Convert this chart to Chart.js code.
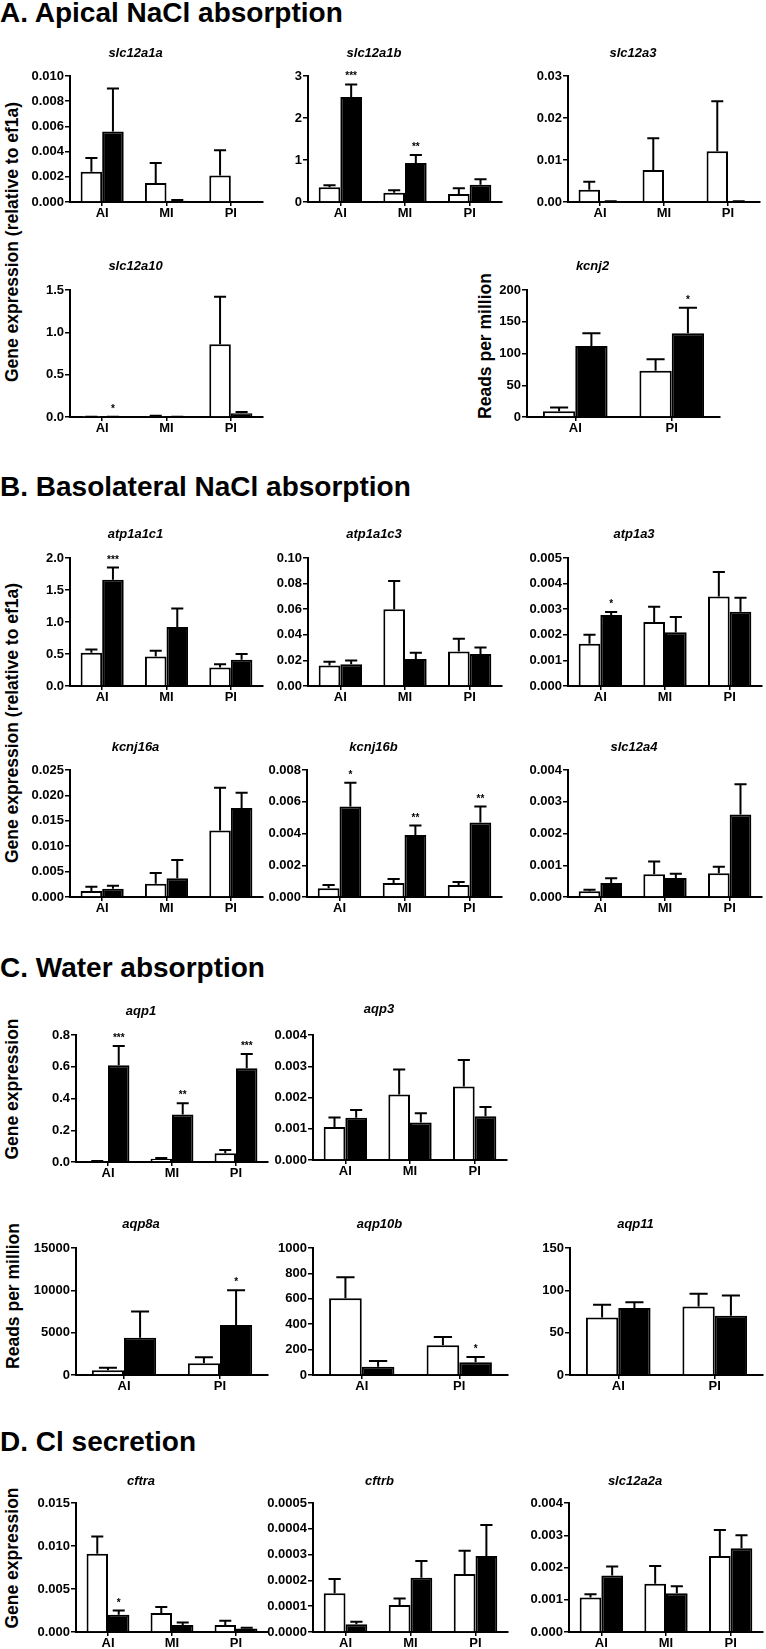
<!DOCTYPE html>
<html>
<head>
<meta charset="utf-8">
<title>Intestinal ion and water transporter expression</title>
<script src="https://cdn.jsdelivr.net/npm/chart.js@4.4.1/dist/chart.umd.min.js"></script>
<style>
  html, body { margin: 0; padding: 0; background: #fff; overflow: hidden; }
  #page { position: relative; width: 766px; height: 1649px; overflow: hidden;
          font-family: "Liberation Sans", Arial, Helvetica, sans-serif; color: #000; }
  .section { position: absolute; left: 0; font-size: 28px; font-weight: bold; line-height: 28px; white-space: nowrap; }
  .ylab { position: absolute; font-size: 17.5px; font-weight: bold; white-space: nowrap;
          transform: translate(-50%, -50%) rotate(-90deg); }
  canvas { position: absolute; }
</style>
</head>
<body>
<div id="page">
  <div class="section" style="top:-1px">A. Apical NaCl absorption</div>
  <div class="section" style="top:473px">B. Basolateral NaCl absorption</div>
  <div class="section" style="top:954px">C. Water absorption</div>
  <div class="section" style="top:1428px">D. Cl secretion</div>

  <div class="ylab" style="left:12px; top:242px">Gene expression (relative to ef1a)</div>
  <div class="ylab" style="left:485px; top:346px">Reads per million</div>
  <div class="ylab" style="left:12px; top:723px">Gene expression (relative to ef1a)</div>
  <div class="ylab" style="left:12px; top:1089px">Gene expression</div>
  <div class="ylab" style="left:13px; top:1296px">Reads per million</div>
  <div class="ylab" style="left:12px; top:1558px">Gene expression</div>
</div>
<script>
// categories
const threeRegions = ["AI", "MI", "PI"];
const twoRegions = ["AI", "PI"];

// --- A. Apical NaCl absorption ---
const slc12a1aOpen = [0.0024, 0.0015, 0.0021];
const slc12a1aOpenErr = [0.0011, 0.0016, 0.0020];
const slc12a1aFilled = [0.0056, 0.0001, 0.0];
const slc12a1aFilledErr = [0.0034, 0.00005, 0];
const slc12a1aStars = ["", "", ""];
const slc12a1aTicks = ["0.000", "0.002", "0.004", "0.006", "0.008", "0.010"];

const slc12a1bOpen = [0.35, 0.22, 0.19];
const slc12a1bOpenErr = [0.05, 0.06, 0.14];
const slc12a1bFilled = [2.5, 0.93, 0.41];
const slc12a1bFilledErr = [0.3, 0.19, 0.13];
const slc12a1bStars = ["***", "**", ""];
const slc12a1bTicks = ["0", "1", "2", "3"];

const slc12a3Open = [0.0029, 0.0076, 0.0121];
const slc12a3OpenErr = [0.0019, 0.0076, 0.0119];
const slc12a3Filled = [0.0001, 0.00005, 0.0001];
const slc12a3FilledErr = [0.00005, 0, 0.00005];
const slc12a3Stars = ["", "", ""];
const slc12a3Ticks = ["0.00", "0.01", "0.02", "0.03"];

const slc12a10Open = [0.002, 0.012, 0.86];
const slc12a10OpenErr = [0.001, 0.004, 0.56];
const slc12a10Filled = [0.001, 0.002, 0.045];
const slc12a10FilledErr = [0.001, 0.001, 0.015];
const slc12a10Stars = ["*", "", ""];
const slc12a10Ticks = ["0.0", "0.5", "1.0", "1.5"];

const kcnj2Open = [9, 73];
const kcnj2OpenErr = [6, 18];
const kcnj2Filled = [112, 132];
const kcnj2FilledErr = [20, 40];
const kcnj2Stars = ["", "*"];
const kcnj2Ticks = ["0", "50", "100", "150", "200"];

// --- B. Basolateral NaCl absorption ---
const atp1a1c1Open = [0.52, 0.46, 0.29];
const atp1a1c1OpenErr = [0.05, 0.09, 0.05];
const atp1a1c1Filled = [1.66, 0.92, 0.41];
const atp1a1c1FilledErr = [0.19, 0.29, 0.09];
const atp1a1c1Stars = ["***", "", ""];
const atp1a1c1Ticks = ["0.0", "0.5", "1.0", "1.5", "2.0"];

const atp1a1c3Open = [0.016, 0.060, 0.027];
const atp1a1c3OpenErr = [0.003, 0.022, 0.010];
const atp1a1c3Filled = [0.017, 0.021, 0.025];
const atp1a1c3FilledErr = [0.003, 0.005, 0.005];
const atp1a1c3Stars = ["", "", ""];
const atp1a1c3Ticks = ["0.00", "0.02", "0.04", "0.06", "0.08", "0.10"];

const atp1a3Open = [0.00165, 0.0025, 0.0035];
const atp1a3OpenErr = [0.00035, 0.0006, 0.00095];
const atp1a3Filled = [0.00277, 0.0021, 0.0029];
const atp1a3FilledErr = [0.00012, 0.0006, 0.00055];
const atp1a3Stars = ["*", "", ""];
const atp1a3Ticks = ["0.000", "0.001", "0.002", "0.003", "0.004", "0.005"];

const kcnj16aOpen = [0.0012, 0.0026, 0.0131];
const kcnj16aOpenErr = [0.0008, 0.0021, 0.0084];
const kcnj16aFilled = [0.0016, 0.0037, 0.0175];
const kcnj16aFilledErr = [0.0006, 0.0036, 0.003];
const kcnj16aStars = ["", "", ""];
const kcnj16aTicks = ["0.000", "0.005", "0.010", "0.015", "0.020", "0.025"];

const kcnj16bOpen = [0.00055, 0.00088, 0.00075];
const kcnj16bOpenErr = [0.0002, 0.00025, 0.0002];
const kcnj16bFilled = [0.0057, 0.0039, 0.0047];
const kcnj16bFilledErr = [0.0015, 0.0006, 0.001];
const kcnj16bStars = ["*", "**", "**"];
const kcnj16bTicks = ["0.000", "0.002", "0.004", "0.006", "0.008"];

const slc12a4Open = [0.00018, 0.00072, 0.00075];
const slc12a4OpenErr = [0.00005, 0.0004, 0.0002];
const slc12a4Filled = [0.00044, 0.0006, 0.0026];
const slc12a4FilledErr = [0.00015, 0.00013, 0.00095];
const slc12a4Stars = ["", "", ""];
const slc12a4Ticks = ["0.000", "0.001", "0.002", "0.003", "0.004"];

// --- C. Water absorption ---
const aqp1Open = [0.005, 0.02, 0.055];
const aqp1OpenErr = [0.002, 0.005, 0.02];
const aqp1Filled = [0.61, 0.30, 0.59];
const aqp1FilledErr = [0.12, 0.07, 0.09];
const aqp1Stars = ["***", "**", "***"];
const aqp1Ticks = ["0.0", "0.2", "0.4", "0.6", "0.8"];

const aqp3Open = [0.00106, 0.0021, 0.00235];
const aqp3OpenErr = [0.0003, 0.0008, 0.00085];
const aqp3Filled = [0.00135, 0.0012, 0.0014];
const aqp3FilledErr = [0.00025, 0.0003, 0.0003];
const aqp3Stars = ["", "", ""];
const aqp3Ticks = ["0.000", "0.001", "0.002", "0.003", "0.004"];

const aqp8aOpen = [550, 1400];
const aqp8aOpenErr = [300, 700];
const aqp8aFilled = [4400, 5900];
const aqp8aFilledErr = [3100, 4100];
const aqp8aStars = ["", "*"];
const aqp8aTicks = ["0", "5000", "10000", "15000"];

const aqp10bOpen = [605, 235];
const aqp10bOpenErr = [165, 65];
const aqp10bFilled = [65, 100];
const aqp10bFilledErr = [45, 42];
const aqp10bStars = ["", "*"];
const aqp10bTicks = ["0", "200", "400", "600", "800", "1000"];

const aqp11Open = [68, 81];
const aqp11OpenErr = [15, 15];
const aqp11Filled = [79, 70];
const aqp11FilledErr = [7, 24];
const aqp11Stars = ["", ""];
const aqp11Ticks = ["0", "50", "100", "150"];

// --- D. Cl secretion ---
const cftraOpen = [0.0091, 0.0022, 0.0008];
const cftraOpenErr = [0.002, 0.0007, 0.0005];
const cftraFilled = [0.002, 0.0008, 0.0004];
const cftraFilledErr = [0.0005, 0.0003, 0.0001];
const cftraStars = ["*", "", ""];
const cftraTicks = ["0.000", "0.005", "0.010", "0.015"];

const cftrbOpen = [0.00015, 0.000105, 0.000225];
const cftrbOpenErr = [0.000055, 0.000025, 0.00009];
const cftrbFilled = [0.00003, 0.00021, 0.000295];
const cftrbFilledErr = [0.00001, 0.000065, 0.00012];
const cftrbStars = ["", "", ""];
const cftrbTicks = ["0.0000", "0.0001", "0.0002", "0.0003", "0.0004", "0.0005"];

const slc12a2aOpen = [0.00107, 0.0015, 0.00236];
const slc12a2aOpenErr = [0.0001, 0.00055, 0.0008];
const slc12a2aFilled = [0.00175, 0.0012, 0.0026];
const slc12a2aFilledErr = [0.00028, 0.00022, 0.0004];
const slc12a2aStars = ["", "", ""];
const slc12a2aTicks = ["0.000", "0.001", "0.002", "0.003", "0.004"];

// where each panel sits on the page (y-axis x, plot right, plot top, plot bottom, title centre)
const layout = {
  slc12a1a: { x: 70, right: 263, top: 76, bottom: 202, titleY: 54 },
  slc12a1b: { x: 308, right: 502, top: 76, bottom: 202, titleY: 54 },
  slc12a3: { x: 568, right: 760, top: 76, bottom: 202, titleY: 54 },
  slc12a10: { x: 70, right: 263, top: 290, bottom: 417, titleY: 267 },
  kcnj2: { x: 527, right: 720, top: 290, bottom: 417, titleY: 267 },
  atp1a1c1: { x: 70, right: 263, top: 558, bottom: 686, titleY: 535 },
  atp1a1c3: { x: 308, right: 502, top: 558, bottom: 686, titleY: 535 },
  atp1a3: { x: 568, right: 762, top: 558, bottom: 686, titleY: 535 },
  kcnj16a: { x: 70, right: 263, top: 770, bottom: 897, titleY: 748 },
  kcnj16b: { x: 307, right: 502, top: 770, bottom: 897, titleY: 748 },
  slc12a4: { x: 568, right: 762, top: 770, bottom: 897, titleY: 748 },
  aqp1: { x: 76, right: 268, top: 1035, bottom: 1162, titleY: 1012 },
  aqp3: { x: 313, right: 507, top: 1035, bottom: 1160, titleY: 1010 },
  aqp8a: { x: 76, right: 268, top: 1248, bottom: 1375, titleY: 1225 },
  aqp10b: { x: 313, right: 508, top: 1248, bottom: 1375, titleY: 1225 },
  aqp11: { x: 570, right: 763, top: 1248, bottom: 1375, titleY: 1225 },
  cftra: { x: 76, right: 268, top: 1503, bottom: 1632, titleY: 1482 },
  cftrb: { x: 313, right: 508, top: 1503, bottom: 1632, titleY: 1482 },
  slc12a2a: { x: 569, right: 763, top: 1503, bottom: 1632, titleY: 1482 }
};

const FONT = '"Liberation Sans", Arial, Helvetica, sans-serif';
const AXIS_W = 62;   // width reserved for y tick labels
const XAXIS_H = 26;  // height reserved for category labels

// error bars (upward only) and significance stars above the filled bars
const errorBarPlugin = {
  id: "errorBars",
  afterDatasetsDraw(chart) {
    const ctx = chart.ctx;
    const yScale = chart.scales.y;
    ctx.save();
    ctx.strokeStyle = "#000";
    ctx.fillStyle = "#000";
    ctx.lineWidth = 2;
    chart.data.datasets.forEach((ds, i) => {
      const meta = chart.getDatasetMeta(i);
      meta.data.forEach((bar, j) => {
        const err = ds.errors[j];
        const topPx = yScale.getPixelForValue(ds.data[j] + err);
        const basePx = yScale.getPixelForValue(ds.data[j]);
        if (err > 0) {
          const half = bar.width * 0.28;
          ctx.beginPath();
          ctx.moveTo(bar.x, basePx);
          ctx.lineTo(bar.x, topPx);
          ctx.moveTo(bar.x - half, topPx);
          ctx.lineTo(bar.x + half, topPx);
          ctx.stroke();
        }
        const star = ds.stars ? ds.stars[j] : "";
        if (star) {
          ctx.font = "bold 10px " + FONT;
          ctx.textAlign = "center";
          ctx.textBaseline = "alphabetic";
          ctx.fillText(star, bar.x, topPx - 5);
        }
      });
    });
    ctx.restore();
  }
};

function makePanel(id, title, categories, open, openErr, filled, filledErr, stars, tickLabels) {
  const g = layout[id];
  const canvasLeft = g.x - AXIS_W;
  const canvasTop = g.titleY - 8;
  const width = AXIS_W + (g.right - g.x) + AXIS_W;
  const height = (g.bottom - canvasTop) + XAXIS_H;

  const canvas = document.createElement("canvas");
  canvas.width = width;
  canvas.height = height;
  canvas.style.left = canvasLeft + "px";
  canvas.style.top = canvasTop + "px";
  canvas.style.width = width + "px";
  canvas.style.height = height + "px";
  document.getElementById("page").appendChild(canvas);

  const tickValues = tickLabels.map(parseFloat);

  return new Chart(canvas, {
    type: "bar",
    data: {
      labels: categories,
      datasets: [
        {
          label: "open",
          data: open,
          errors: openErr,
          stars: [],
          backgroundColor: "#fff",
          borderColor: "#000",
          borderWidth: 2,
          borderSkipped: "bottom"
        },
        {
          label: "filled",
          data: filled,
          errors: filledErr,
          stars: stars,
          backgroundColor: "#000",
          borderColor: "#000",
          borderWidth: 2,
          borderSkipped: "bottom"
        }
      ]
    },
    options: {
      responsive: false,
      animation: false,
      devicePixelRatio: 1,
      events: [],
      categoryPercentage: 0.67,
      barPercentage: 1.0,
      layout: { padding: { left: 0, right: AXIS_W, top: 0, bottom: 0 } },
      plugins: {
        legend: { display: false },
        tooltip: { enabled: false },
        title: {
          display: true,
          text: title,
          color: "#000",
          font: { family: FONT, size: 13, weight: "bold", style: "italic", lineHeight: 1.2 },
          padding: { top: 0, bottom: g.top - g.titleY - 7.6 }
        }
      },
      scales: {
        x: {
          offset: true,
          grid: { display: true, drawOnChartArea: false, drawTicks: true, tickLength: 4,
                  offset: false, color: "#000", lineWidth: 1.5 },
          border: { display: true, color: "#000", width: 2 },
          ticks: { color: "#000", font: { family: FONT, size: 13, weight: "bold" },
                   padding: 0, maxRotation: 0, autoSkip: false },
          afterFit: (s) => { s.height = XAXIS_H; }
        },
        y: {
          min: tickValues[0],
          max: tickValues[tickValues.length - 1],
          afterBuildTicks: (s) => { s.ticks = tickValues.map((v) => ({ value: v })); },
          grid: { display: true, drawOnChartArea: false, drawTicks: true, tickLength: 5,
                  color: "#000", lineWidth: 1.5 },
          border: { display: true, color: "#000", width: 2 },
          ticks: { color: "#000", font: { family: FONT, size: 13, weight: "bold" }, padding: 1,
                   callback: (v, i) => tickLabels[i] },
          afterFit: (s) => { s.width = AXIS_W; }
        }
      }
    },
    plugins: [errorBarPlugin]
  });
}

makePanel("slc12a1a", "slc12a1a", threeRegions, slc12a1aOpen, slc12a1aOpenErr, slc12a1aFilled, slc12a1aFilledErr, slc12a1aStars, slc12a1aTicks);
makePanel("slc12a1b", "slc12a1b", threeRegions, slc12a1bOpen, slc12a1bOpenErr, slc12a1bFilled, slc12a1bFilledErr, slc12a1bStars, slc12a1bTicks);
makePanel("slc12a3", "slc12a3", threeRegions, slc12a3Open, slc12a3OpenErr, slc12a3Filled, slc12a3FilledErr, slc12a3Stars, slc12a3Ticks);
makePanel("slc12a10", "slc12a10", threeRegions, slc12a10Open, slc12a10OpenErr, slc12a10Filled, slc12a10FilledErr, slc12a10Stars, slc12a10Ticks);
makePanel("kcnj2", "kcnj2", twoRegions, kcnj2Open, kcnj2OpenErr, kcnj2Filled, kcnj2FilledErr, kcnj2Stars, kcnj2Ticks);

makePanel("atp1a1c1", "atp1a1c1", threeRegions, atp1a1c1Open, atp1a1c1OpenErr, atp1a1c1Filled, atp1a1c1FilledErr, atp1a1c1Stars, atp1a1c1Ticks);
makePanel("atp1a1c3", "atp1a1c3", threeRegions, atp1a1c3Open, atp1a1c3OpenErr, atp1a1c3Filled, atp1a1c3FilledErr, atp1a1c3Stars, atp1a1c3Ticks);
makePanel("atp1a3", "atp1a3", threeRegions, atp1a3Open, atp1a3OpenErr, atp1a3Filled, atp1a3FilledErr, atp1a3Stars, atp1a3Ticks);
makePanel("kcnj16a", "kcnj16a", threeRegions, kcnj16aOpen, kcnj16aOpenErr, kcnj16aFilled, kcnj16aFilledErr, kcnj16aStars, kcnj16aTicks);
makePanel("kcnj16b", "kcnj16b", threeRegions, kcnj16bOpen, kcnj16bOpenErr, kcnj16bFilled, kcnj16bFilledErr, kcnj16bStars, kcnj16bTicks);
makePanel("slc12a4", "slc12a4", threeRegions, slc12a4Open, slc12a4OpenErr, slc12a4Filled, slc12a4FilledErr, slc12a4Stars, slc12a4Ticks);

makePanel("aqp1", "aqp1", threeRegions, aqp1Open, aqp1OpenErr, aqp1Filled, aqp1FilledErr, aqp1Stars, aqp1Ticks);
makePanel("aqp3", "aqp3", threeRegions, aqp3Open, aqp3OpenErr, aqp3Filled, aqp3FilledErr, aqp3Stars, aqp3Ticks);
makePanel("aqp8a", "aqp8a", twoRegions, aqp8aOpen, aqp8aOpenErr, aqp8aFilled, aqp8aFilledErr, aqp8aStars, aqp8aTicks);
makePanel("aqp10b", "aqp10b", twoRegions, aqp10bOpen, aqp10bOpenErr, aqp10bFilled, aqp10bFilledErr, aqp10bStars, aqp10bTicks);
makePanel("aqp11", "aqp11", twoRegions, aqp11Open, aqp11OpenErr, aqp11Filled, aqp11FilledErr, aqp11Stars, aqp11Ticks);

makePanel("cftra", "cftra", threeRegions, cftraOpen, cftraOpenErr, cftraFilled, cftraFilledErr, cftraStars, cftraTicks);
makePanel("cftrb", "cftrb", threeRegions, cftrbOpen, cftrbOpenErr, cftrbFilled, cftrbFilledErr, cftrbStars, cftrbTicks);
makePanel("slc12a2a", "slc12a2a", threeRegions, slc12a2aOpen, slc12a2aOpenErr, slc12a2aFilled, slc12a2aFilledErr, slc12a2aStars, slc12a2aTicks);
</script>
</body>
</html>
